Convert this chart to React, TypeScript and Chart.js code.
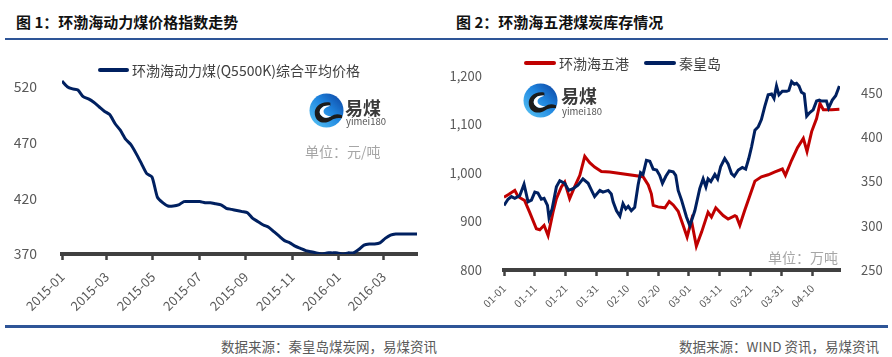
import React, { useEffect, useRef } from 'react';
import { Chart, registerables } from 'chart.js';

Chart.register(...registerables);

const FONT = '"Noto Sans CJK SC", "Noto Sans", sans-serif';
Chart.defaults.font.family = FONT;

const NAVY = '#002060';
const RED = '#C00000';
const AXIS = '#404040';
const TICK_TEXT = '#595959';

// ---------- Chart 1: weekly price index ----------
const priceTitle = '图 1：环渤海动力煤价格指数走势';
const priceLabel = '环渤海动力煤(Q5500K)综合平均价格';
const priceStart = '2015-01-01';
const priceValues = [
  525, 520, 518, 517, 511, 509, 506, 502, 498, 495,
  487, 481, 473, 468, 460, 451, 442, 439, 421, 416,
  413, 413, 414, 417, 417, 417, 417, 416, 416, 415,
  414, 411, 410, 409, 408, 407, 402, 399, 396, 394,
  390, 386, 382, 380, 377, 375, 373, 372, 371, 370,
  371, 371, 371, 370, 371, 371, 374, 378, 379, 379,
  380, 384, 387, 388, 388, 388, 388, 388,
];
const priceXTickLabels = ['2015-01', '2015-03', '2015-05', '2015-07', '2015-09', '2015-11', '2016-01', '2016-03'];
const priceYTicks = [370, 420, 470, 520];

// ---------- Chart 2: daily port stocks ----------
const stockTitle = '图 2：环渤海五港煤炭库存情况';
const bohaiLabel = '环渤海五港';
const qhdLabel = '秦皇岛';
const stockYear = '2016';
// day offsets from 01-01
const bohaiDays = [0, 1.6, 3.5, 4.5, 5.6, 6.7, 8.3, 10.5, 11.6, 13, 14.3, 15.9, 17, 18.6, 19.7, 21.3, 22.9, 24.6, 26.2, 27.8, 29.4, 31.6, 34.3, 45.1, 46.8, 47.8, 48.4, 50, 52.2, 53.6, 54.9, 56.5, 58.1, 59.4, 60.8, 62.4, 64.1, 66.2, 67.3, 68.7, 71.1, 72.7, 74.9, 75.4, 76.5, 78.1, 79.8, 81.4, 83.5, 85.7, 87.9, 90.3, 91.3, 93.3, 95.2, 97.1, 98.3, 99.8, 101.4, 102.5, 103.6, 106.3, 108.8];
const bohaiValues = [950, 956, 964, 952, 947, 943, 919, 885, 883, 892, 871, 919, 947, 971, 981, 947, 971, 995, 1034, 1021, 1012, 1003, 1002, 992, 975, 957, 933, 930, 928, 941, 934, 921, 892, 868, 902, 849, 878, 919, 909, 928, 912, 905, 912, 910, 892, 923, 954, 983, 992, 996, 1002, 1008, 995, 1026, 1052, 1071, 1044, 1085, 1112, 1143, 1130, 1130, 1131];
const qhdDays = [0, 1.3, 2.4, 3.5, 5.1, 6.5, 7.8, 8.9, 10, 11, 12.1, 13, 14.1, 14.6, 15.6, 17, 18.1, 19.7, 21, 22.4, 24, 25.6, 27.3, 28.4, 29.4, 31.1, 32.1, 33.8, 34.8, 35.4, 36.5, 37.6, 38.6, 39.5, 40.3, 41.3, 42.4, 43.5, 44.3, 45.1, 46.2, 47.3, 48.4, 49.5, 50.5, 51.4, 52.5, 53.6, 54.9, 55.7, 56.5, 57.6, 59.2, 60.3, 61.9, 63.5, 64.6, 65.5, 66.2, 67.1, 68.4, 69.3, 70.3, 71.6, 72.7, 73.8, 74.7, 76, 77.3, 78.4, 79.4, 80.3, 81.4, 82.5, 83.5, 84.6, 85.7, 86.8, 87.6, 88.4, 89.2, 90.3, 91.7, 92.4, 93.3, 94.2, 94.9, 95.7, 96.5, 97.4, 98.2, 99.2, 100.3, 101.4, 102.3, 103, 104.6, 105.3, 106.5, 107.6, 108.8];
const qhdValues = [323, 330, 333, 331, 334, 347, 327, 329, 338, 337, 330, 331, 323, 309, 319, 344, 351, 348, 340, 342, 346, 353, 348, 340, 333, 340, 338, 340, 336, 327, 317, 311, 325, 319, 322, 317, 321, 346, 360, 358, 374, 373, 364, 363, 357, 348, 356, 362, 361, 357, 340, 329, 310, 300, 317, 342, 353, 344, 353, 350, 358, 353, 367, 376, 370, 359, 356, 363, 366, 364, 376, 389, 408, 412, 420, 435, 448, 449, 444, 458, 448, 452, 452, 453, 463, 460, 461, 458, 451, 449, 424, 428, 431, 441, 442, 441, 441, 433, 442, 447, 458];
const stockXTickLabels = ['01-01', '01-11', '01-21', '01-31', '02-10', '02-20', '03-01', '03-11', '03-21', '03-31', '04-10'];
const stockLeftTicks = [800, 900, 1000, 1100, 1200];
const stockRightTicks = [250, 300, 350, 400, 450];

const DAY = 86400000;
const dayNum = (s: string) => Date.parse(s) / DAY;

// Legend drawn from the chart's datasets at a fixed spot in the canvas
const fixedLegend = {
  id: 'fixedLegend',
  afterDraw(chart: any, _args: any, opts: any) {
    if (!opts || opts.x == null) return;
    const ctx = chart.ctx;
    ctx.save();
    ctx.font = `${opts.fontSize}px ${FONT}`;
    ctx.textBaseline = 'middle';
    ctx.textAlign = 'left';
    let x = opts.x;
    const y = opts.y;
    chart.data.datasets.forEach((ds: any) => {
      ctx.strokeStyle = ds.borderColor;
      ctx.lineWidth = 4;
      ctx.lineCap = 'round';
      ctx.beginPath();
      ctx.moveTo(x + 2, y);
      ctx.lineTo(x + opts.lineLen - 2, y);
      ctx.stroke();
      ctx.fillStyle = opts.color;
      const tx = x + opts.lineLen + opts.textGap;
      ctx.fillText(ds.label, tx, y + 1);
      x = tx + ctx.measureText(ds.label).width + opts.itemGap;
    });
    ctx.restore();
  },
};

function makePriceConfig(): any {
  const start = dayNum(priceStart);
  const pts = priceValues.map((v, i) => ({ x: start + 7 * i, y: v }));
  const tickMap = new Map<number, string>();
  priceXTickLabels.forEach((l) => tickMap.set(dayNum(l + '-01'), l));
  return {
    type: 'line',
    data: {
      datasets: [
        {
          label: priceLabel,
          data: pts,
          borderColor: NAVY,
          backgroundColor: NAVY,
          borderWidth: 3,
          pointRadius: 0,
          tension: 0.2,
        },
      ],
    },
    plugins: [fixedLegend],
    options: {
      animation: false,
      responsive: false,
      maintainAspectRatio: false,
      layout: { padding: { top: 27, right: 29, left: 0, bottom: 0 } },
      plugins: {
        legend: { display: false },
        tooltip: { enabled: false },
        fixedLegend: { x: 98, y: 70, lineLen: 31, textGap: 3, itemGap: 15, fontSize: 14, color: AXIS },
      },
      scales: {
        x: {
          type: 'linear',
          min: start,
          max: pts[pts.length - 1].x,
          afterBuildTicks: (axis: any) => {
            axis.ticks = Array.from(tickMap.keys()).map((v) => ({ value: v }));
          },
          afterFit: (s: any) => {
            s.height = 71;
          },
          ticks: {
            autoSkip: false,
            minRotation: 45,
            maxRotation: 45,
            padding: 9,
            color: TICK_TEXT,
            font: { size: 13, family: FONT },
            callback: (v: number) => tickMap.get(v) ?? '',
          },
          grid: { display: true, drawOnChartArea: false, drawTicks: true, tickLength: 6, tickWidth: 2.5, tickColor: AXIS },
          border: { display: true, color: AXIS, width: 4 },
        },
        y: {
          min: 370,
          max: 573.5,
          afterBuildTicks: (axis: any) => {
            axis.ticks = priceYTicks.map((v) => ({ value: v }));
          },
          afterFit: (s: any) => {
            s.width = 62;
          },
          ticks: { padding: 17, color: TICK_TEXT, font: { size: 14, family: FONT } },
          grid: { display: false },
          border: { display: false },
        },
      },
    },
  };
}

function makeStockConfig(): any {
  const base = dayNum(stockYear + '-01-01');
  const tickMap = new Map<number, string>();
  stockXTickLabels.forEach((l) => tickMap.set(Math.round(dayNum(stockYear + '-' + l) - base), l));
  const red = bohaiValues.map((v, i) => ({ x: bohaiDays[i], y: v }));
  const blue = qhdValues.map((v, i) => ({ x: qhdDays[i], y: v }));
  return {
    type: 'line',
    data: {
      datasets: [
        {
          label: bohaiLabel,
          data: red,
          borderColor: RED,
          backgroundColor: RED,
          borderWidth: 3,
          pointRadius: 0,
          yAxisID: 'y',
          order: 1,
        },
        {
          label: qhdLabel,
          data: blue,
          borderColor: NAVY,
          backgroundColor: NAVY,
          borderWidth: 3,
          pointRadius: 0,
          yAxisID: 'y1',
          order: 0,
        },
      ],
    },
    plugins: [fixedLegend],
    options: {
      animation: false,
      responsive: false,
      maintainAspectRatio: false,
      layout: { padding: { top: 40, right: 0, left: 0, bottom: 0 } },
      plugins: {
        legend: { display: false },
        tooltip: { enabled: false },
        fixedLegend: { x: 78, y: 63, lineLen: 32, textGap: 3, itemGap: 15, fontSize: 14, color: AXIS },
      },
      scales: {
        x: {
          type: 'linear',
          min: 0,
          max: 109,
          afterBuildTicks: (axis: any) => {
            axis.ticks = Array.from(tickMap.keys()).map((v) => ({ value: v }));
          },
          afterFit: (s: any) => {
            s.height = 55;
          },
          ticks: {
            autoSkip: false,
            minRotation: 45,
            maxRotation: 45,
            padding: 6,
            color: TICK_TEXT,
            font: { size: 10.5, family: FONT },
            callback: (v: number) => tickMap.get(v) ?? '',
          },
          grid: { display: true, drawOnChartArea: false, drawTicks: true, tickLength: 6, tickWidth: 2.5, tickColor: AXIS },
          border: { display: true, color: AXIS, width: 4 },
        },
        y: {
          position: 'left',
          min: 800,
          max: 1273.6,
          afterBuildTicks: (axis: any) => {
            axis.ticks = stockLeftTicks.map((v) => ({ value: v }));
          },
          afterFit: (s: any) => {
            s.width = 58;
          },
          ticks: {
            padding: 14,
            color: TICK_TEXT,
            font: { size: 13, family: FONT },
            callback: (v: number) => v.toLocaleString('en-US'),
          },
          grid: { display: false },
          border: { display: false },
        },
        y1: {
          position: 'right',
          min: 250,
          max: 510,
          afterBuildTicks: (axis: any) => {
            axis.ticks = stockRightTicks.map((v) => ({ value: v }));
          },
          afterFit: (s: any) => {
            s.width = 52;
          },
          ticks: { padding: 13, color: TICK_TEXT, font: { size: 13, family: FONT } },
          grid: { display: false },
          border: { display: false },
        },
      },
    },
  };
}

function ChartCanvas(props: { left: number; top: number; width: number; height: number; make: () => any }) {
  const ref = useRef<HTMLCanvasElement | null>(null);
  useEffect(() => {
    const chart = new Chart(ref.current as HTMLCanvasElement, props.make());
    return () => chart.destroy();
  }, []);
  return (
    <canvas
      ref={ref}
      width={props.width}
      height={props.height}
      style={{ position: 'absolute', left: props.left, top: props.top, width: props.width, height: props.height }}
    />
  );
}

function Logo(props: { left: number; top: number; id: string }) {
  const { left, top, id } = props;
  return (
    <div style={{ position: 'absolute', left, top, width: 90, height: 40, zIndex: 2 }}>
      <svg width={35} height={35} viewBox="0 0 36 36" style={{ position: 'absolute', left: 0, top: 0 }}>
        <defs>
          <linearGradient id={id} x1="1" y1="0" x2="0" y2="1">
            <stop offset="0" stopColor="#0b3f9c" />
            <stop offset="0.45" stopColor="#1f86e0" />
            <stop offset="1" stopColor="#5cc8f5" />
          </linearGradient>
        </defs>
        <circle cx="18" cy="18" r="17.5" fill={`url(#${id})`} />
        <path
          d="M22 10 C13 8, 5 14, 6 22 C7 30, 16 33, 23 28 C26 26, 29 25, 34 26 L34 23 C29 21, 26 22, 23 24 C18 27, 12 25, 11 20 C11 15, 16 12, 22 13 Z"
          fill="#1b1b1b"
        />
        <path d="M22 13 C16 12, 11 15, 11 20 C12 25, 18 27, 23 24 C19 24, 15 22, 15 19 C15 16, 18 14, 22 13 Z" fill="#ffffff" />
      </svg>
    </div>
  );
}

const abs = (s: React.CSSProperties): React.CSSProperties => ({ position: 'absolute', whiteSpace: 'nowrap', ...s });

export default function App() {
  return (
    <div
      style={{
        position: 'fixed',
        left: 0,
        top: 0,
        width: 892,
        height: 357,
        background: '#ffffff',
        overflow: 'hidden',
        fontFamily: FONT,
      }}
    >
      <div style={abs({ left: 16, top: 12, fontSize: 15, lineHeight: '20px', fontWeight: 700, color: '#111' })}>{priceTitle}</div>
      <div style={abs({ left: 456, top: 12, fontSize: 15, lineHeight: '20px', fontWeight: 700, color: '#111' })}>{stockTitle}</div>
      <div style={abs({ left: 5, top: 37.5, width: 883, height: 2.5, background: '#2E5597' })} />

      <ChartCanvas left={0} top={0} width={446} height={325} make={makePriceConfig} />
      <ChartCanvas left={446} top={0} width={446} height={325} make={makeStockConfig} />

      <Logo left={309} top={93} id="lgA" />
      <div style={abs({ left: 345, top: 97, fontSize: 18, lineHeight: '20px', fontWeight: 700, color: '#3a3a3a', zIndex: 3 })}>易煤</div>
      <div style={abs({ left: 346, top: 115, fontSize: 9.5, lineHeight: '12px', color: '#555', zIndex: 3 })}>yimei180</div>
      <div style={abs({ left: 305, top: 141, fontSize: 14, lineHeight: '20px', color: '#a6a6a6', zIndex: 3 })}>单位：元/吨</div>

      <Logo left={523} top={83} id="lgB" />
      <div style={abs({ left: 561, top: 85, fontSize: 18, lineHeight: '20px', fontWeight: 700, color: '#3a3a3a', zIndex: 3 })}>易煤</div>
      <div style={abs({ left: 562, top: 105, fontSize: 9.5, lineHeight: '12px', color: '#555', zIndex: 3 })}>yimei180</div>
      <div style={abs({ left: 768, top: 247, fontSize: 14, lineHeight: '20px', color: '#a6a6a6', zIndex: 3 })}>单位：万吨</div>

      <div style={abs({ left: 5, top: 325, width: 883, height: 2.5, background: '#2E5597' })} />
      <div style={abs({ left: 0, top: 337, width: 437, textAlign: 'right', fontSize: 13.5, lineHeight: '18px', color: '#595959' })}>
        数据来源：秦皇岛煤炭网，易煤资讯
      </div>
      <div style={abs({ left: 446, top: 337, width: 433, textAlign: 'right', fontSize: 13.5, lineHeight: '18px', color: '#595959' })}>
        数据来源：WIND 资讯，易煤资讯
      </div>
    </div>
  );
}
